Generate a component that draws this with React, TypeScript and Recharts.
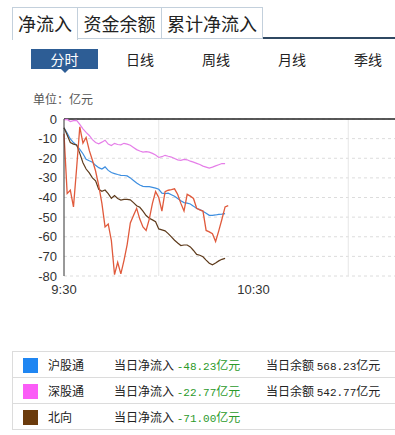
import { CartesianGrid, Line, LineChart, ReferenceLine, XAxis, YAxis } from "recharts"

// 沪股通 当日净流入（亿元），每分钟一个点，自 9:30 起
const HGT = [
  -4.5, -7.2, -10.2, -12, -13.4, -15.5, -17.7, -20.5, -21.3, -22, -23.6, -24.8, -25.5, -24.4, -26.2, -27.3,
  -27.8, -28.3, -28.7, -28.8, -29, -30, -31.3, -32.6, -33.6, -34.3, -34.5, -34.5, -34.8, -35.2, -35.8, -37.8,
  -38, -37.8, -38.6, -39.4, -40.5, -41.7, -42.6, -42.9, -43.3, -44.4, -45.6, -46.2, -47, -48, -49.1, -49.1,
  -48.9, -48.6, -48.5, -48.23,
]

// 深股通
const SGT = [
  -0.3, -0.2, -1.3, -0.8, -0.7, -2.7, -5, -6.8, -8.4, -10.5, -12, -12.6, -11.8, -10.8, -12.8, -13.5, -12.4,
  -13, -13.2, -12.4, -12.8, -13.4, -14.5, -15.6, -16.3, -16.9, -16.6, -16.9, -17.5, -18.3, -19.6, -19.2,
  -18.5, -19, -19.4, -20.1, -20.8, -21.1, -20.6, -20.8, -21.5, -22, -22.6, -23.2, -24, -24.5, -25, -24.5,
  -23.9, -23.3, -22.7, -22.77,
]

// 北向
const BX = [
  -4.5, -8.2, -12, -12.8, -13.2, -17.5, -22.3, -25.5, -27.5, -30, -31.5, -35.8, -36.8, -36.2, -38, -40.4, -39,
  -40.5, -41.3, -41, -41, -41.2, -42.6, -44.2, -45, -47, -49.2, -50.6, -51.4, -52.3, -56, -56.5, -57, -58.4,
  -60.1, -61.8, -63.2, -64.5, -64.2, -64.2, -65.2, -67, -69, -69.4, -70.2, -71.9, -73.5, -74.3, -73.4, -72.3,
  -71.5, -71.0,
]

// 红线（无图例）
const RED = [
  -7.5, -38, -36.3, -44.8, -25, -4, -12.3, -9.4, -16, -21, -26.5, -34, -43, -55, -53.5, -62, -79.3, -73, -78.9,
  -72, -64, -53, -49.2, -45.5, -51, -55, -56.8, -51, -43, -37, -40, -46.9, -37, -36.3, -36, -35.6, -38.5, -43,
  -46.9, -38.4, -39.3, -40.5, -45.5, -46.3, -46.9, -56.8, -57.5, -58.5, -62.4, -57, -51.1, -44.8, -44.1,
]

const X_TICKS = [0, 60]
const X_TICK_LABELS = ["9:30", "10:30"]
const X_GRID = [30, 90]
const Y_TICKS = [0, -10, -20, -30, -40, -50, -60, -70, -80]

const TABS = ["净流入", "资金余额", "累计净流入"]
const PERIODS = ["分时", "日线", "周线", "月线", "季线"]

const LEGEND = [
  { name: "沪股通", color: "#1f86f2", flow: "-48.23", balance: "568.23" },
  { name: "深股通", color: "#fb5cf7", flow: "-22.77", balance: "542.77" },
  { name: "北向", color: "#6b3b0c", flow: "-71.00", balance: null },
]

const data = RED.map((red, i) => ({
  t: i,
  hgt: HGT[i] ?? null,
  sgt: SGT[i] ?? null,
  bx: BX[i] ?? null,
  red,
}))

const CJK = '"Noto Sans CJK SC", sans-serif'
const MONO = '"Liberation Mono", monospace'

export default function App() {
  const tabX = [12, 77, 161, 262]
  const periodX = [64, 140, 216, 292, 368]
  return (
    <div
      style={{
        position: "absolute",
        left: 0,
        top: 0,
        width: 395,
        height: 435,
        overflow: "hidden",
        background: "#fff",
        fontFamily: CJK,
        color: "#222",
      }}
    >
      {TABS.map((t, i) => (
        <div
          key={t}
          style={{
            position: "absolute",
            left: tabX[i],
            top: 7,
            width: tabX[i + 1] - tabX[i] - 1,
            height: i === 0 ? 32 : 30,
            border: "1px solid #c3d0dc",
            borderBottom: i === 0 ? "none" : "1px solid #c3d0dc",
            background: "#fff",
            fontSize: 18,
            lineHeight: "30px",
            textAlign: "center",
            zIndex: i === 0 ? 2 : 1,
          }}
        >
          {t}
        </div>
      ))}
      <div style={{ position: "absolute", left: 78, top: 37, width: 320, height: 2, background: "#2f4862" }} />

      {PERIODS.map((p, i) =>
        i === 0 ? (
          <div key={p}>
            <div
              style={{
                position: "absolute",
                left: 31,
                top: 49,
                width: 67,
                height: 20,
                background: "#2d5d95",
                color: "#fff",
                fontSize: 14,
                lineHeight: "20px",
                textAlign: "center",
              }}
            >
              {p}
            </div>
            <div
              style={{
                position: "absolute",
                left: 61,
                top: 69,
                width: 0,
                height: 0,
                borderLeft: "4px solid transparent",
                borderRight: "4px solid transparent",
                borderTop: "4px solid #2d5d95",
              }}
            />
          </div>
        ) : (
          <div
            key={p}
            style={{
              position: "absolute",
              left: periodX[i] - 30,
              top: 49,
              width: 60,
              fontSize: 14,
              lineHeight: "20px",
              textAlign: "center",
            }}
          >
            {p}
          </div>
        ),
      )}

      <div style={{ position: "absolute", left: 33, top: 90, fontSize: 12, lineHeight: "18px", color: "#555" }}>
        单位：亿元
      </div>

      <div style={{ position: "absolute", left: 0, top: 100 }}>
        <LineChart width={443} height={240} data={data} margin={{ top: 19, right: 0, left: 0, bottom: 34 }}>
          <CartesianGrid vertical={false} stroke="#dcdcdc" strokeDasharray="3 3" />
          {X_GRID.map((x) => (
            <ReferenceLine key={x} x={x} stroke="#e6e6e6" />
          ))}
          <ReferenceLine y={0} stroke="#222" strokeWidth={1.5} />
          <XAxis
            dataKey="t"
            type="number"
            domain={[0, 120]}
            ticks={X_TICKS}
            tickFormatter={(v) => X_TICK_LABELS[X_TICKS.indexOf(v)]}
            axisLine={false}
            tickLine={false}
            tickSize={0}
            tickMargin={9}
            interval={0}
            tick={{ fill: "#333", fontSize: 13, fontFamily: '"Liberation Sans", Arial, sans-serif' }}
          />
          <YAxis
            domain={[-80, 0]}
            ticks={Y_TICKS}
            width={64}
            axisLine={{ stroke: "#333" }}
            tickLine={false}
            tickSize={0}
            tickMargin={7}
            interval={0}
            tick={{ fill: "#333", fontSize: 13, fontFamily: '"Liberation Sans", Arial, sans-serif' }}
          />
          <Line dataKey="sgt" stroke="#e57ee8" strokeWidth={1.2} dot={false} isAnimationActive={false} />
          <Line dataKey="hgt" stroke="#3d8ee0" strokeWidth={1.2} dot={false} isAnimationActive={false} />
          <Line dataKey="bx" stroke="#5e3b1c" strokeWidth={1.2} dot={false} isAnimationActive={false} />
          <Line dataKey="red" stroke="#e05a3c" strokeWidth={1.3} dot={false} isAnimationActive={false} />
        </LineChart>
      </div>

      <div
        style={{
          position: "absolute",
          left: 12,
          top: 351,
          width: 390,
          height: 78,
          borderLeft: "1px solid #dcdcdc",
          borderTop: "1px solid #dcdcdc",
        }}
      >
        {LEGEND.map((row) => (
          <div
            key={row.name}
            style={{
              position: "relative",
              height: 25,
              borderBottom: "1px solid #dcdcdc",
              fontSize: 12,
              lineHeight: "25px",
            }}
          >
            <div style={{ position: "absolute", left: 10, top: 6, width: 15, height: 15, background: row.color }} />
            <span style={{ position: "absolute", left: 35 }}>{row.name}</span>
            <span style={{ position: "absolute", left: 101 }}>
              当日净流入{" "}
              <span style={{ color: "#2b9a2b" }}>
                <span style={{ fontFamily: MONO, fontSize: 11 }}>{row.flow}</span>亿元
              </span>
            </span>
            {row.balance && (
              <span style={{ position: "absolute", left: 253 }}>
                当日余额 <span style={{ fontFamily: MONO, fontSize: 11 }}>{row.balance}</span>亿元
              </span>
            )}
          </div>
        ))}
      </div>
    </div>
  )
}
